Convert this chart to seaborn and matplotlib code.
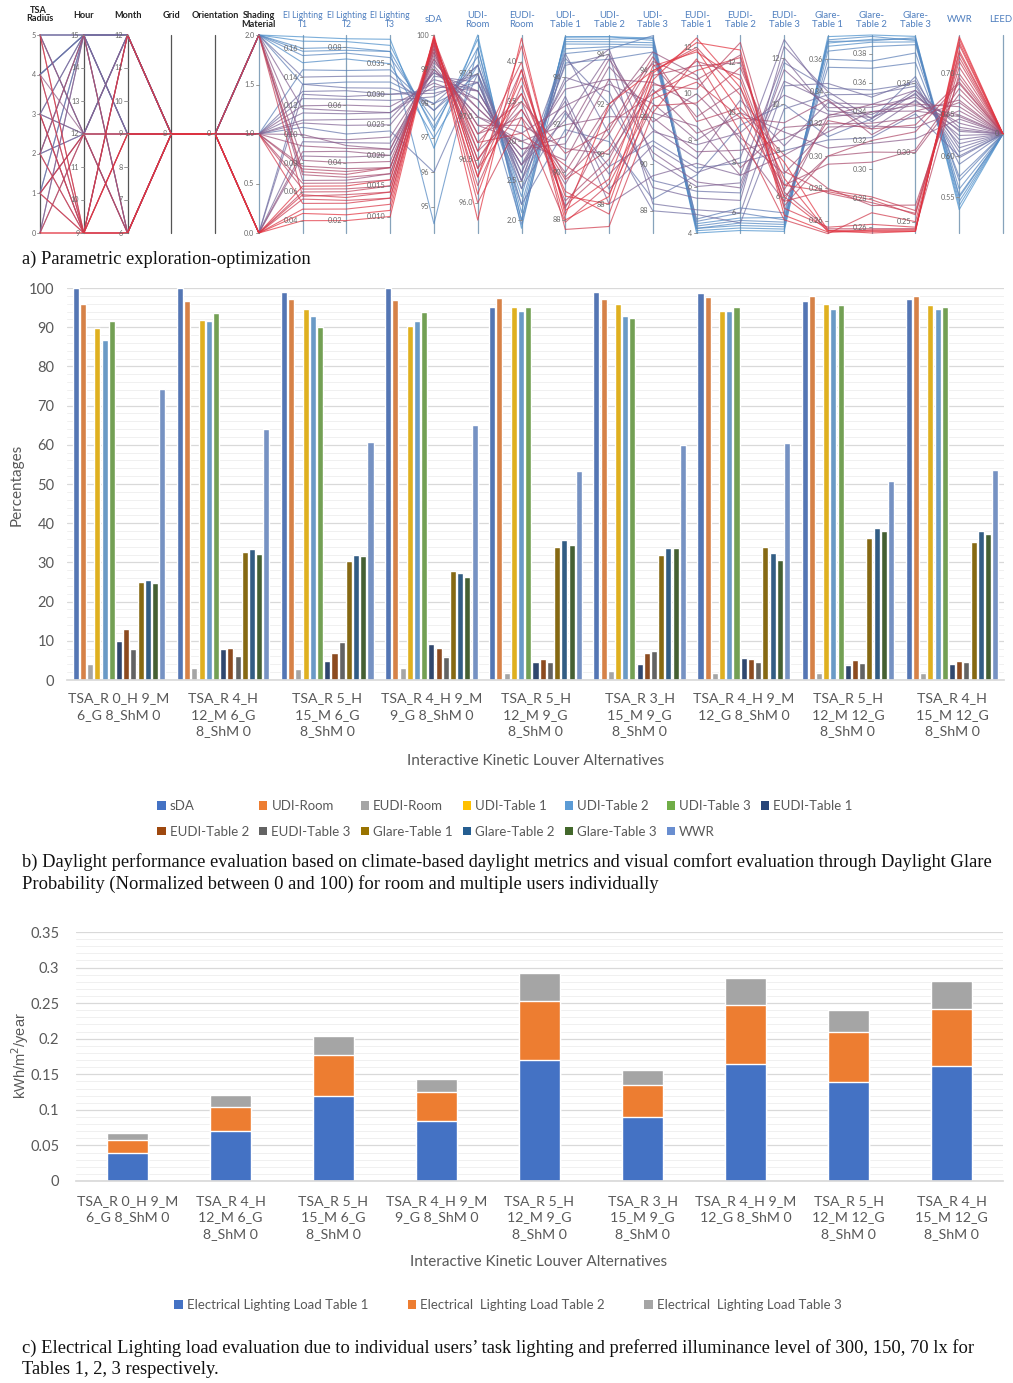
import numpy as np
import pandas as pd
import matplotlib
matplotlib.use("Agg")
import matplotlib.pyplot as plt
from matplotlib.colors import LinearSegmentedColormap
from matplotlib.patches import Patch
from matplotlib.ticker import MultipleLocator, FixedLocator, FuncFormatter
import seaborn as sns

# ------------------------------------------------------------------
# Panel a data: parallel-coordinates runs (one value per run per axis)
# ------------------------------------------------------------------
TSA_RADIUS = [0, 1, 2, 3, 4, 5, 0, 5, 2, 1, 4, 3, 5, 2, 4, 1, 0, 3, 5, 2, 4, 1, 3, 5, 5, 4, 3, 5, 2, 4, 1, 3, 0, 2,
              1, 0, 3, 2, 4, 5, 1, 0]
HOUR = [9, 9, 9, 9, 9, 9, 12, 9, 15, 12, 12, 15, 12, 12, 15, 15, 12, 12, 15, 9, 15, 12, 9, 12, 15, 15, 15, 12, 15, 15, 15, 12,
        9, 12, 9, 15, 9, 15, 9, 15, 12, 15]
MONTH = [6, 6, 9, 6, 12, 9, 6, 12, 6, 9, 9, 12, 6, 12, 9, 12, 9, 6, 6, 12, 12, 6, 9, 12, 12, 12, 9, 12, 12, 9, 12, 12, 9, 9,
         12, 9, 12, 6, 6, 9, 12, 6]
GRID = [8] * len(TSA_RADIUS)
ORIENTATION = [0] * len(TSA_RADIUS)
SHADING = [0, 0, 1, 0, 2, 0, 1, 0, 2, 0, 1, 1, 2, 0, 1, 2, 1, 0, 1, 2, 1, 0, 2, 1, 2, 2, 2, 2, 1, 2, 2, 2, 0, 1,
           1, 2, 1, 0, 1, 0, 2, 1]
EL_T1 = [0.045, 0.048, 0.052, 0.055, 0.057, 0.060, 0.062, 0.058, 0.074, 0.064, 0.100, 0.120, 0.082, 0.095, 0.125, 0.140, 0.078,
         0.088, 0.110, 0.068, 0.130, 0.085, 0.072, 0.115, 0.165, 0.160, 0.155, 0.150, 0.145, 0.168, 0.135, 0.158, 0.040, 0.105,
         0.092, 0.118, 0.076, 0.135, 0.066, 0.128, 0.098, 0.108]
EL_T2 = [0.022, 0.024, 0.026, 0.027, 0.029, 0.030, 0.031, 0.028, 0.036, 0.032, 0.046, 0.060, 0.040, 0.047, 0.062, 0.070, 0.038,
         0.044, 0.055, 0.034, 0.065, 0.042, 0.035, 0.057, 0.082, 0.080, 0.078, 0.076, 0.072, 0.083, 0.068, 0.079, 0.020, 0.050,
         0.045, 0.058, 0.037, 0.066, 0.033, 0.063, 0.048, 0.053]
EL_T3 = [0.011, 0.012, 0.013, 0.013, 0.014, 0.015, 0.015, 0.014, 0.018, 0.016, 0.021, 0.028, 0.019, 0.022, 0.029, 0.033, 0.018,
         0.020, 0.026, 0.017, 0.030, 0.020, 0.017, 0.027, 0.038, 0.037, 0.036, 0.035, 0.034, 0.039, 0.032, 0.037, 0.010, 0.024,
         0.021, 0.027, 0.018, 0.031, 0.016, 0.030, 0.023, 0.025]
SDA = [100, 99.9, 99.8, 99.8, 99.9, 99.7, 99.7, 99.9, 99.6, 99.9, 99.0, 98.6, 99.3, 98.8, 98.2, 97.8, 99.4, 99.2, 98.9, 99.5,
       98.4, 99.1, 99.6, 98.7, 97.2, 97.3, 97.5, 97.0, 97.8, 96.7, 98.0, 94.5, 99.95, 96.0,
       99.3, 98.5, 99.5, 98.0, 99.8, 98.3, 99.0, 98.9]
UDI_ROOM = [96.1, 96.3, 96.5, 96.0, 96.4, 96.7, 96.2, 96.6, 96.8, 96.3, 97.0, 97.2, 96.9, 97.4, 97.5, 97.6, 96.8, 97.1, 97.3,
            96.6, 97.5, 97.0, 96.5, 97.3, 97.9, 97.8, 97.7, 97.6, 97.5, 97.95, 97.4, 97.8, 95.8, 97.5,
            96.9, 97.3, 96.7, 97.6, 96.4, 97.4, 97.1, 97.2]
EUDI_ROOM = [3.9, 4.2, 3.6, 3.3, 3.4, 3.1, 3.7, 4.0, 3.5, 3.8, 3.0, 2.8, 3.2, 2.6, 2.5, 2.4, 3.3, 2.9, 2.7, 3.4, 2.6, 3.1, 3.5,
             2.7, 2.0, 2.1, 2.2, 2.3, 1.95, 1.9, 2.4, 2.0, 4.3, 2.2,
             3.0, 2.7, 3.6, 2.5, 3.9, 2.5, 2.9, 2.8]
UDI_T1 = [88.0, 88.4, 89.2, 87.9, 89.7, 90.3, 88.6, 87.6, 90.8, 89.0, 92.0, 93.5, 91.0, 94.0, 94.5, 92.5, 90.0, 91.5, 93.0, 89.5,
          95.0, 92.8, 88.8, 93.8, 95.7, 95.6, 95.2, 95.5, 95.0, 95.7, 94.6, 95.4, 88.2, 91.8,
          90.5, 92.2, 89.8, 94.8, 88.5, 93.2, 91.2, 92.6]
UDI_T2 = [88.3, 89.0, 87.6, 88.8, 90.2, 88.4, 89.5, 87.1, 91.0, 88.0, 91.5, 93.0, 90.0, 92.5, 94.0, 89.5, 92.0, 93.8, 88.0, 91.8,
          90.8, 92.8, 89.8, 94.2, 94.7, 94.6, 94.3, 94.5, 94.2, 94.7, 93.8, 94.4, 92.0, 90.5,
          93.0, 94.0, 90.8, 92.0, 91.2, 88.6, 93.5, 89.2]
UDI_T3 = [93.9, 94.2, 93.0, 92.8, 94.0, 92.5, 93.4, 92.2, 94.6, 93.6, 92.0, 90.5, 93.2, 89.0, 88.3, 91.0, 94.3, 91.8, 89.5, 94.8,
          88.0, 92.6, 93.8, 90.2, 95.3, 95.4, 95.0, 95.2, 95.5, 95.4, 94.8, 95.1, 94.0, 88.5,
          93.5, 91.5, 94.4, 89.3, 93.0, 90.8, 92.2, 91.4]
EUDI_T1 = [12.2, 11.8, 11.0, 10.5, 12.0, 9.6, 10.2, 11.5, 8.8, 12.4, 7.5, 6.2, 8.3, 5.5, 5.0, 6.8, 9.0, 10.0, 7.0, 10.8, 4.8, 8.0,
           11.2, 6.0, 4.1, 4.2, 4.3, 4.4, 4.5, 4.0, 4.6, 4.2, 11.9, 6.5,
           9.5, 7.2, 10.6, 5.8, 11.4, 6.6, 8.6, 7.8]
EUDI_T2 = [12.5, 11.3, 12.2, 9.8, 10.7, 11.8, 12.8, 9.2, 10.2, 11.0, 8.5, 7.0, 9.8, 6.5, 6.0, 8.0, 11.0, 9.0, 7.5, 8.8, 5.6, 10.0,
           12.0, 7.2, 5.4, 5.5, 5.7, 5.8, 6.0, 5.3, 6.2, 5.6, 10.0, 9.5,
           7.8, 10.5, 12.3, 6.8, 11.5, 8.2, 7.5, 9.2]
EUDI_T3 = [5.2, 6.0, 5.5, 6.5, 5.8, 7.1, 6.2, 5.0, 7.8, 6.8, 8.5, 11.5, 9.2, 12.5, 10.8, 8.0, 6.0, 7.0, 12.0, 5.8, 9.8, 8.8, 6.5,
           11.0, 4.6, 4.7, 4.9, 5.1, 5.0, 4.5, 5.3, 4.8, 7.5, 10.0,
           9.0, 8.2, 5.6, 11.8, 6.3, 12.8, 7.8, 10.4]
GLARE_T1 = [0.253, 0.254, 0.256, 0.278, 0.279, 0.277, 0.255, 0.252, 0.280, 0.253, 0.324, 0.330, 0.335, 0.340, 0.345, 0.310, 0.300,
            0.318, 0.328, 0.325, 0.338, 0.305, 0.295, 0.334, 0.370, 0.372, 0.365, 0.368, 0.360, 0.374, 0.355, 0.371, 0.254, 0.312,
            0.320, 0.333, 0.300, 0.342, 0.322, 0.336, 0.315, 0.326]
GLARE_T2 = [0.257, 0.258, 0.262, 0.279, 0.281, 0.277, 0.259, 0.270, 0.275, 0.258, 0.340, 0.343, 0.324, 0.335, 0.350, 0.322, 0.312,
            0.330, 0.338, 0.345, 0.352, 0.318, 0.305, 0.328, 0.390, 0.392, 0.385, 0.388, 0.375, 0.393, 0.370, 0.389, 0.256, 0.335,
            0.332, 0.345, 0.320, 0.355, 0.328, 0.333, 0.340, 0.336]
GLARE_T3 = [0.243, 0.244, 0.246, 0.255, 0.258, 0.256, 0.245, 0.250, 0.262, 0.244, 0.334, 0.340, 0.330, 0.345, 0.352, 0.328, 0.300,
            0.318, 0.342, 0.335, 0.348, 0.310, 0.302, 0.338, 0.382, 0.381, 0.378, 0.380, 0.372, 0.384, 0.365, 0.383, 0.243, 0.355,
            0.325, 0.345, 0.315, 0.350, 0.320, 0.343, 0.330, 0.337]
WWR = [0.745, 0.735, 0.728, 0.720, 0.715, 0.708, 0.700, 0.725, 0.695, 0.738, 0.650, 0.640, 0.668, 0.620, 0.610, 0.600, 0.675,
       0.655, 0.630, 0.660, 0.605, 0.645, 0.682, 0.625, 0.540, 0.550, 0.560, 0.545, 0.570, 0.535, 0.575, 0.552, 0.742, 0.590,
       0.665, 0.635, 0.688, 0.598, 0.690, 0.615, 0.648, 0.632]
LEED = [0] * len(TSA_RADIUS)

PC_HEADERS = ["TSA_\nRadius", "Hour", "Month", "Grid", "Orientation", "Shading\nMaterial",
              "El Lighting\nT1", "El Lighting\nT2", "El Lighting\nT3", "sDA", "UDI-\nRoom", "EUDI-\nRoom",
              "UDI-\nTable 1", "UDI-\nTable 2", "UDI-\nTable 3", "EUDI-\nTable 1", "EUDI-\nTable 2", "EUDI-\nTable 3",
              "Glare-\nTable 1", "Glare-\nTable 2", "Glare-\nTable 3", "WWR", "LEED"]
PC_COLUMNS = [TSA_RADIUS, HOUR, MONTH, GRID, ORIENTATION, SHADING, EL_T1, EL_T2, EL_T3, SDA, UDI_ROOM, EUDI_ROOM,
              UDI_T1, UDI_T2, UDI_T3, EUDI_T1, EUDI_T2, EUDI_T3, GLARE_T1, GLARE_T2, GLARE_T3, WWR, LEED]
PC_RANGES = [(0, 5), (9, 15), (6, 12), (7, 9), (-1, 1), (0, 2), (0.0314, 0.1693), (0.0157, 0.0843), (0.0073, 0.0397),
             (94.23, 100), (95.65, 97.95), (1.84, 4.34), (87.45, 95.78), (86.84, 94.77), (87.05, 95.53), (4.0, 12.53),
             (5.2, 13.1), (4.43, 13.0), (0.2524, 0.375), (0.256, 0.393), (0.2418, 0.385), (0.5066, 0.747), (-1, 1)]
PC_TICKS = [[0, 1, 2, 3, 4, 5], [9, 10, 11, 12, 13, 14, 15], [6, 7, 8, 9, 10, 11, 12], [8], [0], [0, 0.5, 1.0, 1.5, 2.0],
            [0.04, 0.06, 0.08, 0.10, 0.12, 0.14, 0.16], [0.02, 0.04, 0.06, 0.08],
            [0.010, 0.015, 0.020, 0.025, 0.030, 0.035], [95, 96, 97, 98, 99, 100], [96.0, 96.5, 97.0, 97.5],
            [2.0, 2.5, 3.0, 3.5, 4.0], [88, 90, 92, 94], [88, 90, 92, 94], [88, 90, 92, 94], [4, 6, 8, 10, 12],
            [6, 8, 10, 12], [6, 8, 10, 12], [0.26, 0.28, 0.30, 0.32, 0.34, 0.36],
            [0.26, 0.28, 0.30, 0.32, 0.34, 0.36, 0.38], [0.25, 0.30, 0.35], [0.55, 0.60, 0.65, 0.70], [0]]
PC_TICKFMT = ["{:.0f}", "{:.0f}", "{:.0f}", "{:.0f}", "{:.0f}", "{:.1f}", "{:.2f}", "{:.2f}", "{:.3f}", "{:.0f}", "{:.1f}",
              "{:.1f}", "{:.0f}", "{:.0f}", "{:.0f}", "{:.0f}", "{:.0f}", "{:.0f}", "{:.2f}", "{:.2f}", "{:.2f}", "{:.2f}",
              "{:.0f}"]

# ------------------------------------------------------------------
# Panel b / c data
# ------------------------------------------------------------------
ALTERNATIVES = ["TSA_R 0_H 9_M\n6_G 8_ShM 0", "TSA_R 4_H\n12_M 6_G\n8_ShM 0", "TSA_R 5_H\n15_M 6_G\n8_ShM 0",
                "TSA_R 4_H 9_M\n9_G 8_ShM 0", "TSA_R 5_H\n12_M 9_G\n8_ShM 0", "TSA_R 3_H\n15_M 9_G\n8_ShM 0",
                "TSA_R 4_H 9_M\n12_G 8_ShM 0", "TSA_R 5_H\n12_M 12_G\n8_ShM 0", "TSA_R 4_H\n15_M 12_G\n8_ShM 0"]
METRICS = ["sDA", "UDI-Room", "EUDI-Room", "UDI-Table 1", "UDI-Table 2", "UDI-Table 3", "EUDI-Table 1",
           "EUDI-Table 2", "EUDI-Table 3", "Glare-Table 1", "Glare-Table 2", "Glare-Table 3", "WWR"]
SDA_PCT = [99.9, 99.9, 99.0, 99.9, 95.1, 99.0, 98.6, 96.7, 97.1]
UDI_ROOM_PCT = [95.8, 96.8, 97.1, 96.9, 97.5, 97.3, 97.8, 98.0, 98.0]
EUDI_ROOM_PCT = [4.1, 3.0, 2.8, 3.0, 1.9, 2.3, 1.9, 1.7, 1.9]
UDI_T1_PCT = [89.7, 91.8, 94.6, 90.4, 95.1, 95.8, 94.2, 95.8, 95.6]
UDI_T2_PCT = [86.7, 91.7, 92.9, 91.7, 94.2, 92.9, 94.2, 94.6, 94.6]
UDI_T3_PCT = [91.7, 93.5, 90.1, 93.8, 95.1, 92.3, 95.1, 95.6, 95.2]
EUDI_T1_PCT = [10.0, 7.9, 4.9, 9.2, 4.7, 4.1, 5.5, 3.8, 4.1]
EUDI_T2_PCT = [12.9, 8.1, 6.8, 8.1, 5.4, 6.8, 5.3, 5.1, 4.9]
EUDI_T3_PCT = [7.9, 6.2, 9.7, 5.8, 4.7, 7.5, 4.7, 4.3, 4.7]
GLARE_T1_PCT = [24.9, 32.7, 30.4, 27.8, 34.0, 31.9, 34.0, 36.2, 35.3]
GLARE_T2_PCT = [25.5, 33.3, 31.9, 27.4, 35.8, 33.6, 32.3, 38.8, 37.9]
GLARE_T3_PCT = [24.7, 32.1, 31.6, 26.2, 34.4, 33.6, 30.6, 37.9, 37.2]
WWR_PCT = [74.2, 64.0, 60.8, 65.1, 53.3, 59.9, 60.5, 50.7, 53.5]
METRIC_VALUES = [SDA_PCT, UDI_ROOM_PCT, EUDI_ROOM_PCT, UDI_T1_PCT, UDI_T2_PCT, UDI_T3_PCT, EUDI_T1_PCT,
                 EUDI_T2_PCT, EUDI_T3_PCT, GLARE_T1_PCT, GLARE_T2_PCT, GLARE_T3_PCT, WWR_PCT]
METRIC_COLORS = ["#4472C4", "#ED7D31", "#A5A5A5", "#FFC000", "#5B9BD5", "#70AD47", "#264478",
                 "#9E480E", "#636363", "#997300", "#255E91", "#43682B", "#698ED0"]

LOAD_T1 = [0.039, 0.070, 0.119, 0.084, 0.170, 0.090, 0.165, 0.139, 0.162]
LOAD_T2 = [0.019, 0.034, 0.058, 0.041, 0.083, 0.045, 0.082, 0.070, 0.080]
LOAD_T3 = [0.010, 0.017, 0.027, 0.019, 0.040, 0.021, 0.038, 0.032, 0.039]
LOAD_LABELS = ["Electrical Lighting Load Table 1", "Electrical  Lighting Load Table 2",
               "Electrical  Lighting Load Table 3"]
LOAD_COLORS = ["#4472C4", "#ED7D31", "#A5A5A5"]

# ------------------------------------------------------------------
W, H = 1013, 1383
sns.set_theme(style="white")
plt.rcParams["font.family"] = ["Lato", "DejaVu Sans"]
TXT = "#595959"
SERIF = ["Liberation Serif", "DejaVu Serif"]
CAP = 13.3

fig = plt.figure(figsize=(W / 100, H / 100), dpi=100)


def fx(px):
    return px / W


def fy(py):
    return 1 - py / H


# ---------------- Panel a: parallel coordinates ----------------
step = (1003 - 40) / 22.0
axa = fig.add_axes([fx(30), fy(238), fx(980), 208 / H])
rows = []
for i, (vals, (lo, hi)) in enumerate(zip(PC_COLUMNS, PC_RANGES)):
    for r, v in enumerate(vals):
        rows.append((r, i, (v - lo) / (hi - lo), WWR[r]))
df_a = pd.DataFrame(rows, columns=["run", "axis", "norm", "wwr"])
cmap = LinearSegmentedColormap.from_list("pc", ["#4a90cc", "#85608f", "#e3323e"])
sns.lineplot(data=df_a, x="axis", y="norm", units="run", estimator=None, hue="wwr", palette=cmap,
             hue_norm=(0.535, 0.745), legend=False, linewidth=0.8, alpha=0.72, sort=False, ax=axa)
axa.set_xlim(-10 / step, 22 + 7 / step)
axa.set_ylim(-5 / 198, 1 + 5 / 198)
axa.axis("off")
for i in range(23):
    col = "#555555" if i < 5 else "#86a3bb"
    axa.plot([i, i], [0, 1], color=col, lw=0.9, zorder=0)
    lo, hi = PC_RANGES[i]
    for t in PC_TICKS[i]:
        yv = (t - lo) / (hi - lo)
        axa.plot([i - 0.07, i], [yv, yv], color="#888888", lw=0.6)
        axa.text(i - 0.1, yv, PC_TICKFMT[i].format(t), ha="right", va="center", fontsize=5.2, color="#666666")
    xpx = 40 + i * step
    hdr = PC_HEADERS[i]
    if i < 6:
        ypx = 14 if i == 0 else (20 if "\n" in hdr else 16)
        fig.text(fx(xpx), fy(ypx), hdr, ha="center", va="center", fontsize=6.6, fontweight="bold",
                 color="#222222", linespacing=1.05)
    else:
        if i == 22:
            xpx = 1001
        fig.text(fx(xpx), fy(20), hdr, ha="center", va="center", fontsize=6.2 if i in (6, 7, 8) else 6.8,
                 color="#4f7fbf", linespacing=1.05)

fig.text(fx(22), fy(259), "a) Parametric exploration-optimization", ha="left", va="center",
         fontsize=CAP, family=SERIF, color="#111111")

# ---------------- Panel b: grouped bars ----------------
axb = fig.add_axes([fx(67), fy(680), 937 / W, 392 / H])
rows_b = []
for m, vals in zip(METRICS, METRIC_VALUES):
    for a, v in zip(ALTERNATIVES, vals):
        rows_b.append((a, m, v))
df_b = pd.DataFrame(rows_b, columns=["alt", "metric", "value"])
sns.barplot(data=df_b, x="alt", y="value", hue="metric", order=ALTERNATIVES, hue_order=METRICS,
            palette=METRIC_COLORS, width=0.9, gap=0.16, errorbar=None, legend=False, ax=axb)
axb.set_ylim(0, 100)
axb.set_yticks(range(0, 101, 10))
axb.yaxis.set_minor_locator(MultipleLocator(2))
axb.set_axisbelow(True)
axb.grid(True, axis="y", which="major", color="#d9d9d9", lw=0.9)
axb.grid(True, axis="y", which="minor", color="#f0f0f0", lw=0.7)
for s in ["top", "right", "left"]:
    axb.spines[s].set_visible(False)
axb.spines["bottom"].set_color("#d9d9d9")
axb.tick_params(axis="both", which="both", length=0, labelsize=10.5, labelcolor=TXT)
axb.tick_params(axis="x", labelsize=10.2, pad=9)
axb.tick_params(axis="y", pad=9)
for lbl in axb.get_xticklabels():
    lbl.set_linespacing(1.45)
axb.set_xlabel("")
axb.set_ylabel("")
fig.text(fx(17), fy(485), "Percentages", rotation=90, ha="center", va="center", fontsize=11, color=TXT)
fig.text(fx(536), fy(761), "Interactive Kinetic Louver Alternatives", ha="center", va="center",
         fontsize=11, color=TXT)

order_idx = [0, 7, 1, 8, 2, 9, 3, 10, 4, 11, 5, 12, 6]
handles_b = [Patch(facecolor=METRIC_COLORS[k], edgecolor="none") for k in order_idx]
labels_b = [METRICS[k] for k in order_idx]
leg_b = fig.legend(handles_b, labels_b, ncol=7, loc="center", bbox_to_anchor=(fx(505), fy(819)), frameon=False,
                   fontsize=9.5, handlelength=0.65, handleheight=0.65, handletextpad=0.3, columnspacing=0.75,
                   labelspacing=1.0)
for t in leg_b.get_texts():
    t.set_color(TXT)

fig.text(fx(22), fy(862), "b) Daylight performance evaluation based on climate-based daylight metrics and visual comfort "
         "evaluation through Daylight Glare", ha="left", va="center", fontsize=CAP, family=SERIF, color="#111111")
fig.text(fx(22), fy(884), "Probability (Normalized between 0 and 100) for room and multiple users individually",
         ha="left", va="center", fontsize=CAP, family=SERIF, color="#111111")

# ---------------- Panel c: stacked bars ----------------
axc = fig.add_axes([fx(76), fy(1181), 927 / W, 249 / H])
t1 = np.array(LOAD_T1)
t12 = t1 + np.array(LOAD_T2)
t123 = t12 + np.array(LOAD_T3)
for heights, c in [(t123, LOAD_COLORS[2]), (t12, LOAD_COLORS[1]), (t1, LOAD_COLORS[0])]:
    sns.barplot(x=ALTERNATIVES, y=heights, order=ALTERNATIVES, color=c, width=0.4, errorbar=None,
                saturation=1, ax=axc)
axc.set_ylim(0, 0.35)
axc.set_yticks(np.arange(0, 0.351, 0.05))
axc.yaxis.set_major_formatter(FuncFormatter(lambda v, p: "{:g}".format(round(v, 2))))
axc.yaxis.set_minor_locator(MultipleLocator(0.01))
axc.set_axisbelow(True)
axc.grid(True, axis="y", which="major", color="#d9d9d9", lw=0.9)
axc.grid(True, axis="y", which="minor", color="#f0f0f0", lw=0.7)
for s in ["top", "right", "left"]:
    axc.spines[s].set_visible(False)
axc.spines["bottom"].set_color("#d9d9d9")
axc.set_xlim(-0.5, 8.5)
axc.xaxis.set_minor_locator(FixedLocator(np.arange(-0.5, 9.0, 1.0)))
axc.tick_params(axis="x", which="minor", length=6, color="#d9d9d9", width=0.9)
axc.tick_params(axis="both", which="major", length=0, labelsize=10.5, labelcolor=TXT)
axc.tick_params(axis="y", which="minor", length=0)
axc.tick_params(axis="y", pad=12)
axc.tick_params(axis="x", labelsize=10.2, pad=10)
for lbl in axc.get_xticklabels():
    lbl.set_linespacing(1.45)
axc.set_xlabel("")
axc.set_ylabel("")
fig.text(fx(20), fy(1056), "kWh/m$^{2}$/year", rotation=90, ha="center", va="center", fontsize=10.5,
         color=TXT, family=["Liberation Sans", "DejaVu Sans"])
fig.text(fx(539), fy(1262), "Interactive Kinetic Louver Alternatives", ha="center", va="center",
         fontsize=11, color=TXT)
handles_c = [Patch(facecolor=c, edgecolor="none") for c in LOAD_COLORS]
leg_c = fig.legend(handles_c, LOAD_LABELS, ncol=3, loc="center", bbox_to_anchor=(fx(508), fy(1305)), frameon=False,
                   fontsize=9.5, handlelength=0.65, handleheight=0.65, handletextpad=0.3, columnspacing=3.0)
for t in leg_c.get_texts():
    t.set_color(TXT)

fig.text(fx(22), fy(1348), "c) Electrical Lighting load evaluation due to individual users\u2019 task lighting and "
         "preferred illuminance level of 300, 150, 70 lx for", ha="left", va="center", fontsize=CAP, family=SERIF,
         color="#111111")
fig.text(fx(22), fy(1370), "Tables 1, 2, 3 respectively.", ha="left", va="center", fontsize=CAP, family=SERIF,
         color="#111111")

fig.savefig("out.png", dpi=100)
